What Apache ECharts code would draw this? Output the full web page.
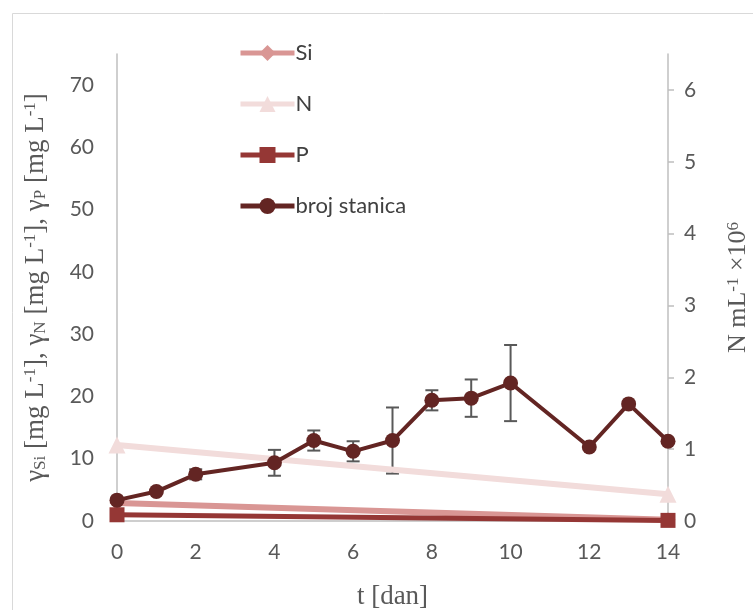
<!DOCTYPE html>
<html>
<head>
<meta charset="utf-8">
<script src="https://cdn.jsdelivr.net/npm/echarts@6/dist/echarts.min.js"></script>
<style>html,body{margin:0;padding:0;background:#fff}#c{width:753px;height:610px}</style>
</head>
<body>
<div id="c"></div>
<script>
// ---- data ----
var nutrientDays = [0, 14];
var siValues = [2.9, 0.2];
var nValues = [12.2, 4.3];
var pValues = [1.0, 0.1];
var cellDays = [0, 1, 2, 4, 5, 6, 7, 8, 9, 10, 12, 13, 14];
var cellValues = [0.29, 0.41, 0.65, 0.81, 1.12, 0.97, 1.12, 1.68, 1.71, 1.92, 1.03, 1.63, 1.11];
var cellErrors = [0, 0, 0.07, 0.18, 0.14, 0.14, 0.46, 0.14, 0.26, 0.53, 0, 0, 0];
var seriesNames = ['Si', 'N', 'P', 'broj stanica'];

function pairs(xs, ys) { return xs.map(function (x, i) { return [x, ys[i]]; }); }
var errData = cellDays.map(function (d, i) { return [d, cellValues[i] - cellErrors[i], cellValues[i] + cellErrors[i]]; })
  .filter(function (r, i) { return cellErrors[i] > 0; });

var chart = echarts.init(document.getElementById('c'));
var tickColor = '#595959';
var axisLineColor = '#bfbfbf';
var sansFont = 'Lato';
var serif = 'Liberation Serif';

chart.setOption({
  animation: false,
  backgroundColor: '#fff',
  graphic: [{
    type: 'rect', left: 10, top: 11, z: -1,
    shape: { width: 780, height: 640 },
    style: { fill: 'none', stroke: '#d9d9d9', lineWidth: 1 }
  }],
  grid: { left: 117, right: 85, top: 54, bottom: 89, containLabel: false, outerBoundsMode: 'none' },
  legend: {
    orient: 'vertical', left: 233, top: 37,
    itemWidth: 54, itemHeight: 20, itemGap: 29,
    lineStyle: { width: 5 },
    textStyle: { fontFamily: sansFont, fontSize: 22, color: '#404040', padding: [0, 0, 0, -4] },
    data: seriesNames
  },
  xAxis: {
    type: 'value', min: 0, max: 14, interval: 2,
    name: 't [dan]', nameLocation: 'middle', nameGap: 62,
    nameTextStyle: { fontFamily: serif, fontSize: 27, color: tickColor },
    axisLine: { show: true, lineStyle: { color: axisLineColor, width: 1.5 } },
    axisTick: { show: false },
    splitLine: { show: false },
    axisLabel: { fontFamily: sansFont, fontSize: 21, color: tickColor, margin: 21 }
  },
  yAxis: [{
    type: 'value', min: 0, max: 75, interval: 10, position: 'left',
    name: 'γ{sub|Si} [mg L{sup|-1}], γ{sub|N} [mg L{sup|-1}], γ{sub|P} [mg L{sup|-1}]',
    nameLocation: 'middle', nameGap: 68, nameRotate: 90,
    nameTextStyle: {
      fontFamily: serif, fontSize: 27, color: tickColor,
      rich: {
        sub: { fontFamily: serif, fontSize: 17, color: tickColor, verticalAlign: 'bottom', padding: [10, 0, 0, 0] },
        sup: { fontFamily: serif, fontSize: 17, color: tickColor, verticalAlign: 'top', padding: [0, 0, 10, 0] }
      }
    },
    axisLine: { show: true, lineStyle: { color: axisLineColor, width: 1.5 } },
    axisTick: { show: false },
    splitLine: { show: false },
    axisLabel: { fontFamily: sansFont, fontSize: 21, color: tickColor, margin: 23, showMaxLabel: false }
  }, {
    type: 'value', min: 0, max: 6.5, interval: 1, position: 'right',
    name: 'N mL{sup|-1} ×10{sup|6}',
    nameLocation: 'middle', nameGap: 57, nameRotate: 90,
    nameTextStyle: {
      fontFamily: serif, fontSize: 26, color: tickColor,
      rich: {
        sup: { fontFamily: serif, fontSize: 17, color: tickColor, verticalAlign: 'top', padding: [0, 0, 10, 0] }
      }
    },
    axisLine: { show: true, lineStyle: { color: axisLineColor, width: 1.5 } },
    axisTick: { show: true, length: 6, lineStyle: { color: axisLineColor, width: 1.5 } },
    splitLine: { show: false },
    axisLabel: { fontFamily: sansFont, fontSize: 21, color: tickColor, margin: 16, showMaxLabel: false }
  }],
  series: [{
    name: 'Si', type: 'line', yAxisIndex: 0,
    data: pairs(nutrientDays, siValues),
    symbol: 'diamond', symbolSize: 15,
    lineStyle: { color: '#d99694', width: 6 },
    itemStyle: { color: '#d99694' }
  }, {
    name: 'N', type: 'line', yAxisIndex: 0,
    data: pairs(nutrientDays, nValues),
    symbol: 'triangle', symbolSize: 17,
    lineStyle: { color: '#f2dcdb', width: 6 },
    itemStyle: { color: '#f2dcdb' }
  }, {
    name: 'P', type: 'line', yAxisIndex: 0,
    data: pairs(nutrientDays, pValues),
    symbol: 'rect', symbolSize: 15,
    lineStyle: { color: '#953735', width: 5 },
    itemStyle: { color: '#953735' }
  }, {
    name: 'broj stanica', type: 'line', yAxisIndex: 1,
    data: pairs(cellDays, cellValues),
    symbol: 'circle', symbolSize: 15,
    lineStyle: { color: '#632523', width: 4 },
    itemStyle: { color: '#632523' }, z: 4
  }, {
    name: 'err', type: 'custom', yAxisIndex: 1, z: 3,
    data: errData,
    renderItem: function (params, api) {
      var x = api.value(0);
      var lo = api.coord([x, api.value(1)]);
      var hi = api.coord([x, api.value(2)]);
      var w = 6.5;
      var st = { stroke: '#595959', lineWidth: 2, fill: 'none' };
      return {
        type: 'group',
        children: [
          { type: 'line', shape: { x1: lo[0], y1: lo[1], x2: hi[0], y2: hi[1] }, style: st },
          { type: 'line', shape: { x1: lo[0] - w, y1: lo[1], x2: lo[0] + w, y2: lo[1] }, style: st },
          { type: 'line', shape: { x1: hi[0] - w, y1: hi[1], x2: hi[0] + w, y2: hi[1] }, style: st }
        ]
      };
    }
  }]
});
</script>
</body>
</html>
